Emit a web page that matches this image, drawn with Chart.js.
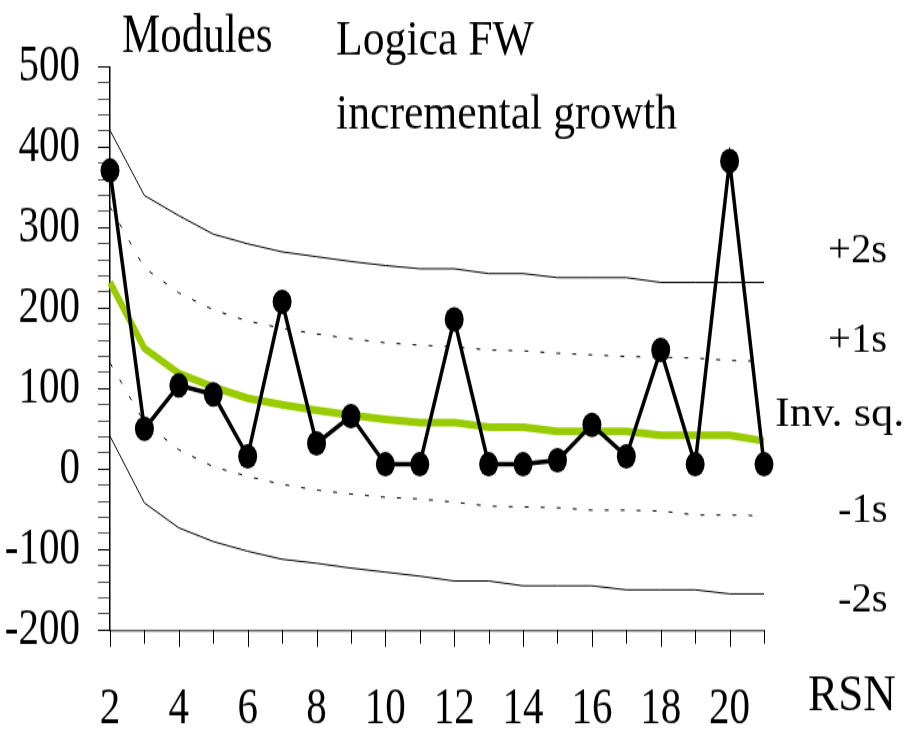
<!DOCTYPE html>
<html>
<head>
<meta charset="utf-8">
<script src="https://cdn.jsdelivr.net/npm/chart.js@4.4.1/dist/chart.umd.min.js"></script>
<style>
  html, body { margin: 0; padding: 0; background: #fff; width: 911px; height: 740px; overflow: hidden; }
  /* the drawing is laid out on a 911x570 bitmap and shown stretched tall to 911x740 */
  #chart { display: block; width: 911px; height: 740px; }
</style>
</head>
<body>
<canvas id="chart" width="911" height="570" style="width:911px;height:740px"></canvas>
<script>
// Release sequence numbers on the x axis
const rsn = ['2','3','4','5','6','7','8','9','10','11','12','13','14','15','16','17','18','19','20','21'];
const xTickLabels = ['2','4','6','8','10','12','14','16','18','20'];
const yTickLabels = [-200, -100, 0, 100, 200, 300, 400, 500];

// Modules added per release
const modules = [371, 50, 104, 93, 16, 208, 32, 66, 6, 6, 186, 6, 6, 11, 55, 16, 148, 6, 383, 6];
// Inverse square model
const invSq   = [232, 150, 119, 102, 88, 80, 73, 67, 62, 58, 58, 52, 52, 47, 47, 47, 42, 42, 42, 35];
// Standard deviation bands around the model
const plus2s  = [421, 340, 315, 292, 280, 270, 264, 258, 253, 249, 249, 243, 243, 238, 238, 238, 232, 232, 232, 232];
const plus1s  = [326, 250, 219, 198, 184, 175, 168, 162, 157, 154, 152, 148, 147, 144, 142, 140, 139, 138, 135, 134];
const minus1s = [132, 58, 24, 3, -9, -19, -26, -31, -35, -37, -41, -46, -47, -48, -51, -51, -52, -57, -57, -58];
const minus2s = [41, -42, -73, -90, -102, -112, -117, -123, -128, -133, -139, -139, -145, -145, -145, -150, -150, -150, -155, -155];

const SERIF = "'Liberation Serif', 'Times New Roman', serif";

// free-standing captions
const notes = [
  { text: 'Modules',            x: 122, y: 39.8,  size: 43, sx: 1.0  },
  { text: 'Logica FW',          x: 336, y: 42.4,  size: 38, sx: 1.15 },
  { text: 'incremental growth', x: 336, y: 99,    size: 38, sx: 1.15 },
  { text: '+2s',                x: 828, y: 201.5, size: 32, sx: 1.27 },
  { text: '+1s',                x: 828, y: 270.5, size: 32, sx: 1.27 },
  { text: 'Inv. sq.',           x: 775, y: 328,   size: 32, sx: 1.39 },
  { text: '-1s',                x: 838, y: 401.5, size: 32, sx: 1.27 },
  { text: '-2s',                x: 838, y: 470.5, size: 32, sx: 1.27 },
  { text: 'RSN',                x: 808, y: 547,   size: 40, sx: 1.13 }
];

// x-axis tick marks: long at labelled releases, short in between
const xTickMarks = {
  id: 'xTickMarks',
  afterDraw(chart) {
    const ctx = chart.ctx;
    const xs = chart.scales.x;
    const base = chart.chartArea.bottom;
    ctx.save();
    ctx.strokeStyle = '#000';
    ctx.lineWidth = 1;
    rsn.forEach((l, i) => {
      const px = Math.round(xs.getPixelForValue(i)) + 0.5;
      const len = xTickLabels.includes(l) ? 13 : 10.5;
      ctx.beginPath();
      ctx.moveTo(px, base);
      ctx.lineTo(px, base + len);
      ctx.stroke();
    });
    ctx.restore();
  }
};

const captionPlugin = {
  id: 'captions',
  afterDraw(chart) {
    const ctx = chart.ctx;
    ctx.save();
    ctx.fillStyle = '#000';
    ctx.textAlign = 'left';
    ctx.textBaseline = 'alphabetic';
    for (const n of notes) {
      ctx.save();
      ctx.translate(n.x, n.y);
      ctx.scale(n.sx, 1);
      ctx.font = n.size + 'px ' + SERIF;
      ctx.fillText(n.text, 0, 0);
      ctx.restore();
    }
    ctx.restore();
  }
};

const band = (data, dash) => ({
  data,
  borderColor: '#000',
  borderWidth: 1,
  borderDash: dash,
  pointRadius: 0,
  tension: 0,
  fill: false,
  clip: false
});

new Chart(document.getElementById('chart'), {
  type: 'line',
  data: {
    labels: rsn,
    datasets: [
      {
        label: 'Modules',
        data: modules,
        borderColor: '#000',
        borderWidth: 3.5,
        pointRadius: 9.5,
        pointBackgroundColor: '#000',
        pointBorderWidth: 0,
        pointStyle: 'circle',
        tension: 0,
        fill: false,
        clip: false
      },
      {
        label: 'Inv. sq.',
        data: invSq,
        borderColor: '#99cc00',
        borderWidth: 6,
        pointRadius: 0,
        tension: 0,
        fill: false,
        clip: false
      },
      band(plus2s, []),
      band(plus1s, [4, 12]),
      band(minus1s, [4, 12]),
      band(minus2s, [])
    ]
  },
  options: {
    responsive: false,
    animation: false,
    devicePixelRatio: 1,
    layout: { padding: { left: 0, right: 147, top: 51.4, bottom: 0 } },
    plugins: { legend: { display: false }, tooltip: { enabled: false }, title: { display: false } },
    scales: {
      x: {
        type: 'category',
        offset: false,
        grid: { display: true, drawOnChartArea: false, drawTicks: true, tickLength: 12, color: 'rgba(0,0,0,0)', lineWidth: 1 },
        border: { display: true, color: '#666', width: 1.5 },
        ticks: {
          autoSkip: false,
          maxRotation: 0,
          minRotation: 0,
          padding: 24,
          color: '#000',
          font: { family: SERIF, size: 41 },
          callback(value) {
            const l = this.getLabelForValue(value);
            return xTickLabels.includes(l) ? l : '';
          }
        },
        afterFit(scale) { scale.height = 84.7; }
      },
      y: {
        min: -200,
        max: 500,
        grid: {
          display: true,
          drawOnChartArea: false,
          drawTicks: true,
          tickLength: 12,
          lineWidth: 1,
          color: (c) => (c.tick && yTickLabels.includes(c.tick.value)) ? '#000' : '#555'
        },
        border: { display: true, color: '#000', width: 1.5 },
        ticks: {
          stepSize: 20,
          maxTicksLimit: 40,
          autoSkip: false,
          padding: 18,
          color: '#000',
          font: { family: SERIF, size: 41 },
          callback: (v) => yTickLabels.includes(v) ? String(v) : ''
        },
        afterFit(scale) { scale.width = 110; }
      }
    }
  },
  plugins: [xTickMarks, captionPlugin]
});
</script>
</body>
</html>
